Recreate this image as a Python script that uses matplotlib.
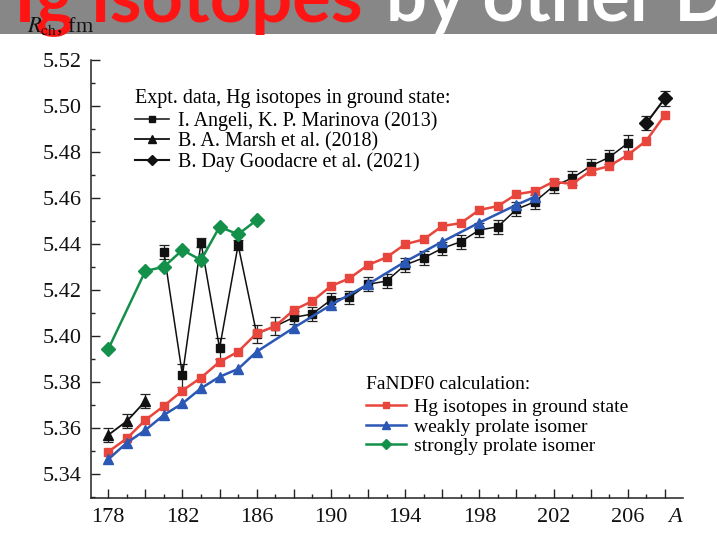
import matplotlib
matplotlib.use('Agg')
import matplotlib.pyplot as plt
from matplotlib.ticker import MultipleLocator, FuncFormatter
from matplotlib.patches import Rectangle

plt.rcParams['font.family'] = ['Liberation Serif', 'DejaVu Serif']
plt.rcParams['mathtext.fontset'] = 'stix'

# ---------------- data ----------------
# FaNDF0 calculation, ground state
A_gs = list(range(178, 209))
R_gs = [5.3497, 5.3555, 5.3635, 5.3696, 5.3763, 5.3819, 5.3888, 5.3932, 5.4012,
        5.4043, 5.4113, 5.4152, 5.4217, 5.4251, 5.4309, 5.4342, 5.4399, 5.4420,
        5.4478, 5.4491, 5.4548, 5.4565, 5.4616, 5.4630, 5.4671, 5.4661, 5.4717,
        5.4739, 5.4787, 5.4849, 5.4961]
# weakly prolate isomer
A_weak = [178, 179, 180, 181, 182, 183, 184, 185, 186, 188, 190, 192, 194, 196, 198, 200, 201]
R_weak = [5.3464, 5.3536, 5.3591, 5.3657, 5.3707, 5.3773, 5.3823, 5.3857, 5.3932,
          5.4036, 5.4135, 5.4225, 5.4323, 5.4410, 5.4493, 5.4570, 5.4606]
# strongly prolate isomer
A_strong = [178, 180, 181, 182, 183, 184, 185, 186]
R_strong = [5.3943, 5.4283, 5.4301, 5.4374, 5.4330, 5.4475, 5.4442, 5.4504]

# Experimental: Angeli & Marinova (2013)
A_ang = list(range(181, 207))
R_ang = [5.4364, 5.3830, 5.4406, 5.3947, 5.4396, 5.4009, 5.4043, 5.4081, 5.4096,
         5.4157, 5.4168, 5.4225, 5.4239, 5.4309, 5.4340, 5.4381, 5.4410, 5.4461,
         5.4475, 5.4551, 5.4584, 5.4652, 5.4686, 5.4739, 5.4777, 5.4838]
E_ang = [0.003, 0.005, 0.002, 0.0045, 0.002, 0.004, 0.004, 0.003, 0.003,
         0.003, 0.003, 0.003, 0.003, 0.003, 0.003, 0.003, 0.003, 0.003,
         0.003, 0.003, 0.003, 0.003, 0.003, 0.003, 0.003, 0.0035]
# Marsh et al. (2018)
A_marsh = [178, 179, 180]
R_marsh = [5.3570, 5.3630, 5.3717]
E_marsh = [0.003, 0.003, 0.003]
# Day Goodacre et al. (2021)
A_day = [207, 208]
R_day = [5.4925, 5.5033]
E_day = [0.003, 0.0033]

x_ticks_labeled = [178, 182, 186, 190, 194, 198, 202, 206]

RED = '#e8453c'
BLUE = '#2b57b5'
GREEN = '#13904a'

W, H = 717, 540
fig = plt.figure(figsize=(W / 100, H / 100), dpi=100)
ax = fig.add_axes([91 / W, 1 - 498 / H, (683 - 91) / W, (498 - 60) / H])

# banner
fig.patches.append(Rectangle((0, 1 - 34 / H), 1, 34 / H, transform=fig.transFigure,
                             facecolor='#878787', edgecolor='none', zorder=0))
fig.text(363 / W, 1 - 21 / H, 'Hg isotopes', color='#ff1414', fontsize=52,
         fontweight='bold', family=['Lato', 'DejaVu Sans'], ha='right', va='baseline',
         zorder=2)
fig.text(386 / W, 1 - 21 / H, 'by other DF', color='white', fontsize=52,
         fontweight='bold', family=['Lato', 'DejaVu Sans'], ha='left', va='baseline',
         zorder=2)
fig.text(27 / W, 1 - 32 / H, r'$R_{\mathrm{ch}}$, fm', fontsize=16, ha='left',
         va='baseline', color='#111111', zorder=10)

# experimental
ax.errorbar(A_ang, R_ang, yerr=E_ang, fmt='none', ecolor='#222222', elinewidth=0.9,
            capsize=3.8, capthick=0.9, zorder=2)
ax.errorbar(A_marsh, R_marsh, yerr=E_marsh, fmt='none', ecolor='#222222', elinewidth=0.9,
            capsize=3.8, capthick=0.9, zorder=2)
ax.errorbar(A_day, R_day, yerr=E_day, fmt='none', ecolor='#222222', elinewidth=0.9,
            capsize=3.8, capthick=0.9, zorder=2)
l_ang, = ax.plot(A_ang, R_ang, color='#111111', lw=1.1, marker='s', ms=6.4,
                 label='I. Angeli, K. P. Marinova (2013)', zorder=3)
l_marsh, = ax.plot(A_marsh, R_marsh, color='#111111', lw=1.3, marker='^', ms=7.2,
                   label='B. A. Marsh et al. (2018)', zorder=3)
l_day, = ax.plot(A_day, R_day, color='#111111', lw=1.5, marker='D', ms=6.8,
                 label='B. Day Goodacre et al. (2021)', zorder=3)

# calculation
l_strong, = ax.plot(A_strong, R_strong, color=GREEN, lw=1.8, marker='D', ms=7.3,
                    label='strongly prolate isomer', zorder=4)
l_gs, = ax.plot(A_gs, R_gs, color=RED, lw=1.8, marker='s', ms=6.3,
                label='Hg isotopes in ground state', zorder=5)
l_weak, = ax.plot(A_weak, R_weak, color=BLUE, lw=1.8, marker='^', ms=7.6,
                  label='weakly prolate isomer', zorder=6)

ax.set_xlim(177.07, 208.98)
ax.set_ylim(5.3296, 5.52)

ax.xaxis.set_major_locator(MultipleLocator(2))
ax.xaxis.set_minor_locator(MultipleLocator(1))
ax.xaxis.set_major_formatter(FuncFormatter(
    lambda v, p: f'{int(round(v))}' if int(round(v)) in x_ticks_labeled else ''))
ax.yaxis.set_major_locator(MultipleLocator(0.02))
ax.yaxis.set_minor_locator(MultipleLocator(0.01))
ax.yaxis.set_major_formatter(FuncFormatter(lambda v, p: f'{v:.2f}'))
ax.tick_params(which='both', direction='in', width=1.0, colors='#222222', labelsize=16,
               labelcolor='#111111')
ax.tick_params(which='major', length=6.2, pad=7)
ax.tick_params(which='minor', length=3.1)
for s in ['top', 'right']:
    ax.spines[s].set_visible(False)
for s in ['left', 'bottom']:
    ax.spines[s].set_linewidth(1.1)
    ax.spines[s].set_color('#222222')

ax.annotate('A', xy=(208.55, 0), xycoords=('data', 'axes fraction'),
            xytext=(0, -7), textcoords='offset points', ha='center', va='top',
            fontsize=16, fontstyle='italic', color='#111111')

leg1 = ax.legend(handles=[l_ang, l_marsh, l_day], title='Expt. data, Hg isotopes in ground state:',
                 loc='upper left', bbox_to_anchor=((135 - 91) / 592, (498 - 88.5) / 438),
                 frameon=False, fontsize=14.4, title_fontsize=14.4, alignment='left',
                 borderpad=0, borderaxespad=0, labelspacing=0.065, handlelength=1.7,
                 handletextpad=0.45, markerscale=0.75)
leg1._legend_box.sep = 2.6
ax.add_artist(leg1)
leg2 = ax.legend(handles=[l_gs, l_weak, l_strong], title='FaNDF0 calculation:',
                 loc='upper left', bbox_to_anchor=((366 - 91) / 592, (498 - 376) / 438),
                 frameon=False, fontsize=14, title_fontsize=14, alignment='left',
                 borderpad=0, borderaxespad=0, labelspacing=0.11, handlelength=2.05,
                 handletextpad=0.41, markerscale=0.75)
leg2._legend_box.sep = 3.7

fig.savefig('out.png', dpi=100)
